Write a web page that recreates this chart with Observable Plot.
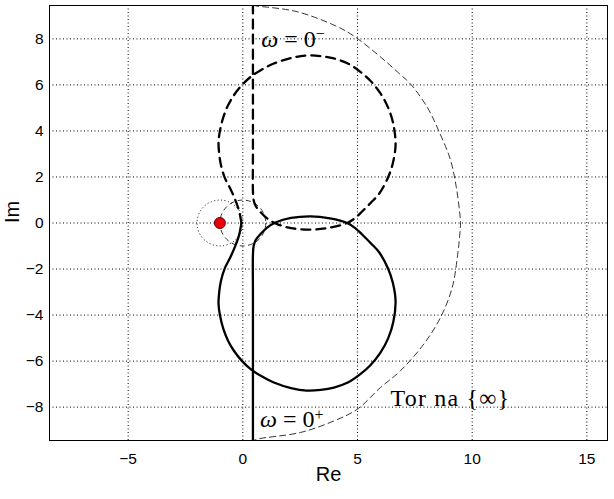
<!DOCTYPE html>
<html>
<head>
<meta charset="utf-8">
<script src="https://cdn.jsdelivr.net/npm/d3@7"></script>
<script src="https://cdn.jsdelivr.net/npm/@observablehq/plot@0.6"></script>
<style>
  html, body { margin: 0; padding: 0; background: #fff; }
  #chart svg { display: block; }
</style>
</head>
<body>
<div id="chart"></div>
<script>
// ---- data ----
const xTicks = [-5, 0, 5, 10, 15];
const yTicks = [-8, -6, -4, -2, 0, 2, 4, 6, 8];

// omega from 0+ to +inf (solid)
const solidRe = [0.44, 0.44, 0.44, 0.44, 0.47, 0.56, 0.77, 1.06, 1.45, 2.1, 2.95, 3.8, 4.55, 4.9, 5.2, 5.6, 5.95, 6.34, 6.54, 6.66, 6.56, 6.34, 6.0, 5.54, 5.08, 4.6, 3.97, 3.4, 2.78, 2.1, 1.35, 0.8, 0.34, -0.05, -0.39, -0.65, -0.85, -1.0, -1.06, -1.03, -0.95, -0.78, -0.55, -0.35, -0.17, -0.06];
const solidIm = [-9.6, -6.35, -3.0, -1.4, -1.0, -0.74, -0.48, -0.2, 0.03, 0.22, 0.29, 0.2, 0.0, -0.22, -0.5, -0.9, -1.28, -2.0, -2.6, -3.4, -4.3, -5.0, -5.63, -6.2, -6.6, -6.92, -7.15, -7.25, -7.28, -7.17, -6.93, -6.65, -6.35, -5.98, -5.55, -5.1, -4.6, -4.0, -3.5, -3.0, -2.5, -1.95, -1.5, -1.05, -0.55, 0.0];

// omega from -inf to 0- (dashed)
const dashedRe = [-0.06, -0.17, -0.35, -0.55, -0.78, -0.95, -1.03, -1.06, -1.0, -0.85, -0.65, -0.39, -0.05, 0.34, 0.8, 1.35, 2.1, 2.78, 3.4, 3.97, 4.6, 5.08, 5.54, 6.0, 6.34, 6.56, 6.66, 6.54, 6.34, 5.95, 5.6, 5.2, 4.9, 4.55, 3.8, 2.95, 2.1, 1.45, 1.06, 0.77, 0.56, 0.47, 0.44, 0.44, 0.44, 0.44];
const dashedIm = [0.0, 0.55, 1.05, 1.5, 1.95, 2.5, 3.0, 3.5, 4.0, 4.6, 5.1, 5.55, 5.98, 6.35, 6.65, 6.93, 7.17, 7.28, 7.25, 7.15, 6.92, 6.6, 6.2, 5.63, 5.0, 4.3, 3.4, 2.6, 2.0, 1.28, 0.9, 0.5, 0.22, 0.0, -0.2, -0.29, -0.22, -0.03, 0.2, 0.48, 0.74, 1.0, 1.4, 3.0, 6.35, 9.6];

// closing contour at infinity (thin dashed)
const arcRe = [0.44, 0.63, 1.06, 2.37, 3.97, 4.8, 5.9, 6.87, 7.31, 8.04, 8.54, 9.05, 9.3, 9.45, 9.49, 9.45, 9.37, 9.13, 8.62, 7.89, 6.87, 6.0, 4.99, 3.97, 2.52, 0.63, 0.44];
const arcIm = [9.47, 9.42, 9.38, 9.18, 8.6, 8.15, 7.3, 6.45, 6.04, 5.03, 4.01, 2.75, 1.6, 0.5, 0.0, -0.6, -1.35, -2.8, -4.1, -5.26, -6.42, -7.15, -8.09, -8.6, -9.1, -9.39, -9.47];

const criticalPoint = [{re: -1, im: 0}];
const unitCircleCenter = [{re: 0, im: 0}];

const labels = [
  {re: 0.8, im: 8.0, text: "ω = 0⁻", kind: "omega", sup: "−"},
  {re: 0.75, im: -8.55, text: "ω = 0⁺", kind: "omega", sup: "+"},
  {re: 6.44, im: -7.6, text: "Tor na {∞}", kind: "plain", sup: ""}
];

// ---- chart ----
const W = 614, H = 499;
const mL = 49, mR = 7, mT = 5, mB = 59;
const xDomain = [-8.43, 15.9];
const yDomain = [-9.45, 9.45];
const pxPerUnit = (W - mL - mR) / (xDomain[1] - xDomain[0]);

const toRows = (re, im) => re.map((r, i) => ({re: r, im: im[i]}));
const solid = toRows(solidRe, solidIm);
const dashed = toRows(dashedRe, dashedIm);
const arc = toRows(arcRe, arcIm);

const sans = "Liberation Sans, Arial, sans-serif";
const serif = "Liberation Serif, Times New Roman, serif";

const chart = Plot.plot({
  width: W, height: H,
  marginLeft: mL, marginRight: mR, marginTop: mT, marginBottom: mB,
  style: {fontFamily: sans, background: "#fff", color: "#000"},
  x: {domain: xDomain},
  y: {domain: yDomain},
  marks: [
    Plot.gridX(xTicks, {stroke: "#000", strokeOpacity: 1, strokeWidth: 1, strokeDasharray: "1,2.5"}),
    Plot.gridY(yTicks, {stroke: "#000", strokeOpacity: 1, strokeWidth: 1, strokeDasharray: "1,2.5"}),
    Plot.axisX(xTicks, {tickSize: 0, tickPadding: 12, fontSize: 15.5, label: null}),
    Plot.axisY(yTicks, {tickSize: 0, tickPadding: 6, fontSize: 15.5, label: null}),
    Plot.text(["Re"], {frameAnchor: "bottom", dy: 40, fontSize: 20}),
    Plot.text(["Im"], {frameAnchor: "left", dx: -37, rotate: -90, fontSize: 20}),
    Plot.dot(criticalPoint, {x: "re", y: "im", r: pxPerUnit, fill: "none", stroke: "#000", strokeWidth: 1, strokeDasharray: "1,2.5"}),
    Plot.dot(unitCircleCenter, {x: "re", y: "im", r: pxPerUnit, fill: "none", stroke: "#000", strokeWidth: 0.8, strokeDasharray: "5,3.5"}),
    Plot.line(arc, {x: "re", y: "im", curve: "catmull-rom", stroke: "#000", strokeWidth: 0.8, strokeDasharray: "6,4", clip: true}),
    Plot.line(dashed, {x: "re", y: "im", curve: "catmull-rom", stroke: "#000", strokeWidth: 2.3, strokeDasharray: "9,6", clip: true}),
    Plot.line(solid, {x: "re", y: "im", curve: "catmull-rom", stroke: "#000", strokeWidth: 2.3, clip: true}),
    Plot.dot(criticalPoint, {x: "re", y: "im", r: 5.5, fill: "#e8000b", stroke: "#600", strokeWidth: 1}),
    Plot.text(labels, {x: "re", y: "im", text: "text", textAnchor: "start", fontFamily: serif, fontSize: 24, fill: "#000", className: "latexlabel"}),
    Plot.frame({stroke: "#000", strokeWidth: 1})
  ]
});
document.getElementById("chart").appendChild(chart);

// typeset labels: italic omega, raised superscript, a little wider spacing
d3.select(chart).selectAll(".latexlabel text").each(function(i) {
  const d = labels[i];
  const t = d3.select(this);
  if (!d) return;
  t.text(null);
  if (d.kind === "omega") {
    t.append("tspan").attr("font-style", "italic").text("ω");
    t.append("tspan").text(" = 0");
    t.append("tspan").attr("dy", "-0.45em").attr("font-size", "16").text(d.sup);
  } else {
    t.attr("letter-spacing", "1.2").text(d.text);
  }
});
</script>
</body>
</html>
